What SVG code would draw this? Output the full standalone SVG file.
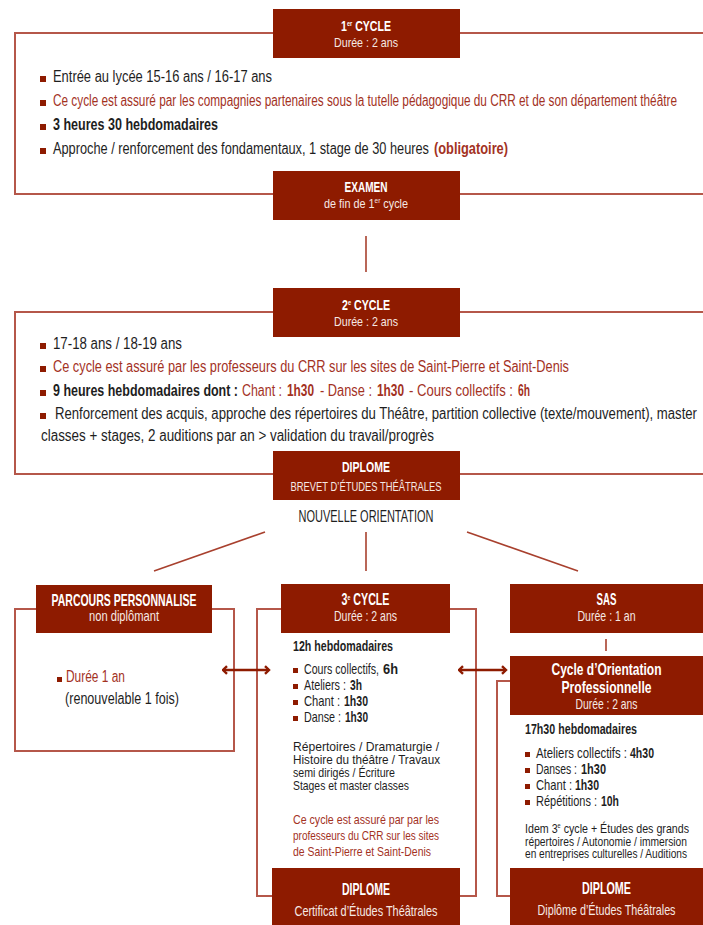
<svg xmlns="http://www.w3.org/2000/svg" width="703" height="925" viewBox="0 0 703 925">
<style>
text{font-family:"Liberation Sans Narrow","Liberation Sans",Arial,sans-serif}
.bx{fill:#8e1b00}
.fr{fill:none;stroke:#b5574a;stroke-width:2}
.cn{fill:none;stroke:#a8402e;stroke-width:1.6}
.ar{fill:none;stroke:#8e1b00;stroke-width:2.6}
.h{fill:#fff;font-weight:bold;font-size:15px;text-anchor:middle}
.hb{fill:#fff;font-weight:bold;font-size:16.5px;text-anchor:middle}
.s{fill:#f6e9e4;font-size:13.5px;text-anchor:middle}
.s2{fill:#f6e9e4;font-size:14.5px;text-anchor:middle}
.b{fill:#1e1e1e;font-size:16px}
.m{fill:#1e1e1e;font-size:14.5px}
.p{fill:#1e1e1e;font-size:13.5px}
.r{fill:#a3321f}
.bd{font-weight:bold}
.sq{fill:#8e1b00}
</style>
<defs>
<marker id="ah" viewBox="0 0 10 10" refX="8.5" refY="5" markerWidth="10" markerHeight="10" markerUnits="userSpaceOnUse" orient="auto-start-reverse">
<path d="M4.5,1.2 L8.5,5 L4.5,8.8" fill="none" stroke="#8e1b00" stroke-width="2.4"/>
</marker>
</defs>

<g id="cycle1">
<path class="fr" d="M703,33 H15 V194 H703"/>
<rect class="bx" x="273" y="9" width="187" height="49"/>
<text class="h" x="366" y="31" textLength="50" lengthAdjust="spacingAndGlyphs">1<tspan font-size="8" dy="-5">er</tspan><tspan dy="5"> CYCLE</tspan></text>
<text class="s" x="366" y="47" textLength="64" lengthAdjust="spacingAndGlyphs">Durée : 2 ans</text>
<rect class="sq" x="40" y="76" width="6" height="6"/>
<text class="b" x="53" y="82" textLength="219" lengthAdjust="spacingAndGlyphs">Entrée au lycée 15-16 ans / 16-17 ans</text>
<rect class="sq" x="40" y="100" width="6" height="6"/>
<text class="b r" x="53" y="106" textLength="624" lengthAdjust="spacingAndGlyphs">Ce cycle est assuré par les compagnies partenaires sous la tutelle pédagogique du CRR et de son département théâtre</text>
<rect class="sq" x="40" y="124" width="6" height="6"/>
<text class="b bd" x="53" y="130" textLength="165" lengthAdjust="spacingAndGlyphs">3 heures 30 hebdomadaires</text>
<rect class="sq" x="40" y="148" width="6" height="6"/>
<text class="b" x="53" y="154" textLength="376" lengthAdjust="spacingAndGlyphs">Approche / renforcement des fondamentaux, 1 stage de 30 heures</text>
<text class="b r bd" x="434" y="154" textLength="74" lengthAdjust="spacingAndGlyphs">(obligatoire)</text>
</g>

<g id="examen">
<rect class="bx" x="273" y="171" width="187" height="49"/>
<text class="h" x="366" y="192" textLength="43" lengthAdjust="spacingAndGlyphs">EXAMEN</text>
<text class="s" x="366" y="208" textLength="84" lengthAdjust="spacingAndGlyphs">de fin de 1<tspan font-size="8" dy="-5">er</tspan><tspan dy="5"> cycle</tspan></text>
</g>

<g id="cycle2">
<path class="fr" d="M703,312 H15 V474 H703"/>
<rect class="bx" x="273" y="288" width="187" height="49"/>
<text class="h" x="366" y="310" textLength="48" lengthAdjust="spacingAndGlyphs">2<tspan font-size="8" dy="-5">e</tspan><tspan dy="5"> CYCLE</tspan></text>
<text class="s" x="366" y="326" textLength="64" lengthAdjust="spacingAndGlyphs">Durée : 2 ans</text>
<rect class="sq" x="40" y="343" width="6" height="6"/>
<text class="b" x="53" y="349" textLength="129" lengthAdjust="spacingAndGlyphs">17-18 ans / 18-19 ans</text>
<rect class="sq" x="40" y="366" width="6" height="6"/>
<text class="b r" x="53" y="372" textLength="516" lengthAdjust="spacingAndGlyphs">Ce cycle est assuré par les professeurs du CRR sur les sites de Saint-Pierre et Saint-Denis</text>
<rect class="sq" x="40" y="390" width="6" height="6"/>
<text class="b bd" x="53" y="396" textLength="185" lengthAdjust="spacingAndGlyphs">9 heures hebdomadaires dont :</text>
<text class="b r" x="242" y="396" textLength="40" lengthAdjust="spacingAndGlyphs">Chant :</text>
<text class="b r bd" x="287" y="396" textLength="27" lengthAdjust="spacingAndGlyphs">1h30</text>
<text class="b r" x="320" y="396" textLength="52" lengthAdjust="spacingAndGlyphs">- Danse :</text>
<text class="b r bd" x="377" y="396" textLength="27" lengthAdjust="spacingAndGlyphs">1h30</text>
<text class="b r" x="409" y="396" textLength="104" lengthAdjust="spacingAndGlyphs">- Cours collectifs :</text>
<text class="b r bd" x="518" y="396" textLength="12" lengthAdjust="spacingAndGlyphs">6h</text>
<rect class="sq" x="40" y="413" width="6" height="6"/>
<text class="b" x="55" y="419" textLength="642" lengthAdjust="spacingAndGlyphs">Renforcement des acquis, approche des répertoires du Théâtre, partition collective (texte/mouvement), master</text>
<text class="b" x="41" y="441" textLength="393" lengthAdjust="spacingAndGlyphs">classes + stages, 2 auditions par an &gt; validation du travail/progrès</text>
</g>

<g id="diplome-bet">
<rect class="bx" x="273" y="451" width="187" height="49"/>
<text class="h" x="366" y="472" textLength="48" lengthAdjust="spacingAndGlyphs">DIPLOME</text>
<text class="s" x="366" y="491" textLength="151" lengthAdjust="spacingAndGlyphs">BREVET D’ÉTUDES THÉÂTRALES</text>
</g>

<g id="nouvelle-orientation">
<text x="366" y="522" fill="#1e1e1e" font-size="16.5" text-anchor="middle" textLength="135" lengthAdjust="spacingAndGlyphs">NOUVELLE ORIENTATION</text>
</g>

<g id="parcours">
<rect class="fr" x="15" y="609" width="219" height="142"/>
<rect class="bx" x="36" y="585" width="176" height="48"/>
<text class="hb" x="124" y="606" font-size="15.5" textLength="145" lengthAdjust="spacingAndGlyphs">PARCOURS PERSONNALISE</text>
<text class="s2" x="124" y="621" textLength="70" lengthAdjust="spacingAndGlyphs">non diplômant</text>
<rect class="sq" x="57" y="677" width="5" height="5"/>
<text class="b r" x="66" y="682" textLength="59" lengthAdjust="spacingAndGlyphs">Durée 1 an</text>
<text class="b" x="65" y="704" textLength="114" lengthAdjust="spacingAndGlyphs">(renouvelable 1 fois)</text>
</g>

<g id="cycle3">
<rect class="fr" x="257" y="609" width="219" height="287"/>
<rect class="bx" x="281" y="584" width="169" height="49"/>
<text class="hb" x="365.5" y="605" font-size="15.5" textLength="48" lengthAdjust="spacingAndGlyphs">3<tspan font-size="8" dy="-5">e</tspan><tspan dy="5"> CYCLE</tspan></text>
<text class="s2" x="365.5" y="621" textLength="63" lengthAdjust="spacingAndGlyphs">Durée : 2 ans</text>
<text class="m bd" x="293" y="651" textLength="100" lengthAdjust="spacingAndGlyphs">12h hebdomadaires</text>
<rect class="sq" x="293" y="668" width="5" height="5"/>
<text class="m" x="304" y="674" textLength="75" lengthAdjust="spacingAndGlyphs">Cours collectifs,</text>
<text class="m bd" x="383" y="674" textLength="15" lengthAdjust="spacingAndGlyphs">6h</text>
<rect class="sq" x="293" y="684" width="5" height="5"/>
<text class="m" x="304" y="690" textLength="42" lengthAdjust="spacingAndGlyphs">Ateliers :</text>
<text class="m bd" x="350" y="690" textLength="12" lengthAdjust="spacingAndGlyphs">3h</text>
<rect class="sq" x="293" y="700" width="5" height="5"/>
<text class="m" x="304" y="706" textLength="36" lengthAdjust="spacingAndGlyphs">Chant :</text>
<text class="m bd" x="344" y="706" textLength="24" lengthAdjust="spacingAndGlyphs">1h30</text>
<rect class="sq" x="293" y="716" width="5" height="5"/>
<text class="m" x="304" y="722" textLength="37" lengthAdjust="spacingAndGlyphs">Danse :</text>
<text class="m bd" x="345" y="722" textLength="23" lengthAdjust="spacingAndGlyphs">1h30</text>
<text class="p" x="293" y="751" textLength="146" lengthAdjust="spacingAndGlyphs">Répertoires / Dramaturgie /</text>
<text class="p" x="293" y="764" textLength="147" lengthAdjust="spacingAndGlyphs">Histoire du théâtre / Travaux</text>
<text class="p" x="293" y="777" textLength="102" lengthAdjust="spacingAndGlyphs">semi dirigés / Écriture</text>
<text class="p" x="293" y="790" textLength="116" lengthAdjust="spacingAndGlyphs">Stages et master classes</text>
<text class="p r" x="293" y="824" font-size="14.5" textLength="146" lengthAdjust="spacingAndGlyphs">Ce cycle est assuré par par les</text>
<text class="p r" x="293" y="840" font-size="14.5" textLength="146" lengthAdjust="spacingAndGlyphs">professeurs du CRR sur les sites</text>
<text class="p r" x="293" y="856" font-size="14.5" textLength="138" lengthAdjust="spacingAndGlyphs">de Saint-Pierre et Saint-Denis</text>
</g>

<g id="diplome-cet">
<rect class="bx" x="272" y="868" width="188" height="57"/>
<text class="hb" x="366" y="895" textLength="48" lengthAdjust="spacingAndGlyphs">DIPLOME</text>
<text class="s2" x="366" y="916" textLength="143" lengthAdjust="spacingAndGlyphs">Certificat d’Études Théâtrales</text>
</g>

<g id="sas">
<rect class="bx" x="510" y="584" width="193" height="49"/>
<text class="hb" x="606.5" y="605" font-size="15.5" textLength="20" lengthAdjust="spacingAndGlyphs">SAS</text>
<text class="s2" x="606.5" y="621" textLength="58" lengthAdjust="spacingAndGlyphs">Durée : 1 an</text>
</g>

<g id="cop">
<path class="fr" d="M510,681 H497 V896 H510"/>
<rect class="bx" x="510" y="656" width="193" height="59"/>
<text class="hb" x="606.5" y="675" textLength="110" lengthAdjust="spacingAndGlyphs">Cycle d’Orientation</text>
<text class="hb" x="606.5" y="693" textLength="90" lengthAdjust="spacingAndGlyphs">Professionnelle</text>
<text class="s2" x="606.5" y="709" textLength="62" lengthAdjust="spacingAndGlyphs">Durée : 2 ans</text>
<text class="m bd" x="525" y="734" textLength="112" lengthAdjust="spacingAndGlyphs">17h30 hebdomadaires</text>
<rect class="sq" x="525" y="752" width="5" height="5"/>
<text class="m" x="536" y="758" textLength="91" lengthAdjust="spacingAndGlyphs">Ateliers collectifs :</text>
<text class="m bd" x="630" y="758" textLength="24" lengthAdjust="spacingAndGlyphs">4h30</text>
<rect class="sq" x="525" y="768" width="5" height="5"/>
<text class="m" x="536" y="774" textLength="41" lengthAdjust="spacingAndGlyphs">Danses :</text>
<text class="m bd" x="581" y="774" textLength="25" lengthAdjust="spacingAndGlyphs">1h30</text>
<rect class="sq" x="525" y="784" width="5" height="5"/>
<text class="m" x="536" y="790" textLength="36" lengthAdjust="spacingAndGlyphs">Chant :</text>
<text class="m bd" x="575" y="790" textLength="24" lengthAdjust="spacingAndGlyphs">1h30</text>
<rect class="sq" x="525" y="800" width="5" height="5"/>
<text class="m" x="536" y="806" textLength="61" lengthAdjust="spacingAndGlyphs">Répétitions :</text>
<text class="m bd" x="601" y="806" textLength="18" lengthAdjust="spacingAndGlyphs">10h</text>
<text class="p" x="525" y="833" textLength="164" lengthAdjust="spacingAndGlyphs">Idem 3<tspan font-size="7" dy="-5">e</tspan><tspan dy="5"> cycle + Études des grands</tspan></text>
<text class="p" x="525" y="846" textLength="162" lengthAdjust="spacingAndGlyphs">répertoires / Autonomie / immersion</text>
<text class="p" x="525" y="858" textLength="162" lengthAdjust="spacingAndGlyphs">en entreprises culturelles / Auditions</text>
</g>

<g id="diplome-det">
<rect class="bx" x="510" y="868" width="193" height="57"/>
<text class="hb" x="606.5" y="894" textLength="49" lengthAdjust="spacingAndGlyphs">DIPLOME</text>
<text class="s2" x="606.5" y="915" textLength="138" lengthAdjust="spacingAndGlyphs">Diplôme d’Études Théâtrales</text>
</g>

<g id="connectors">
<line class="cn" x1="366" y1="236" x2="366" y2="272"/>
<line class="cn" x1="265" y1="532" x2="154" y2="571"/>
<line class="cn" x1="366" y1="532" x2="366" y2="571"/>
<line class="cn" x1="467" y1="532" x2="578" y2="571"/>
<line class="cn" x1="606" y1="639" x2="606" y2="651" stroke-width="2"/>
<line class="ar" x1="223" y1="670" x2="269" y2="670" marker-start="url(#ah)" marker-end="url(#ah)"/>
<line class="ar" x1="459" y1="670" x2="506" y2="670" marker-start="url(#ah)" marker-end="url(#ah)"/>
</g>
</svg>
